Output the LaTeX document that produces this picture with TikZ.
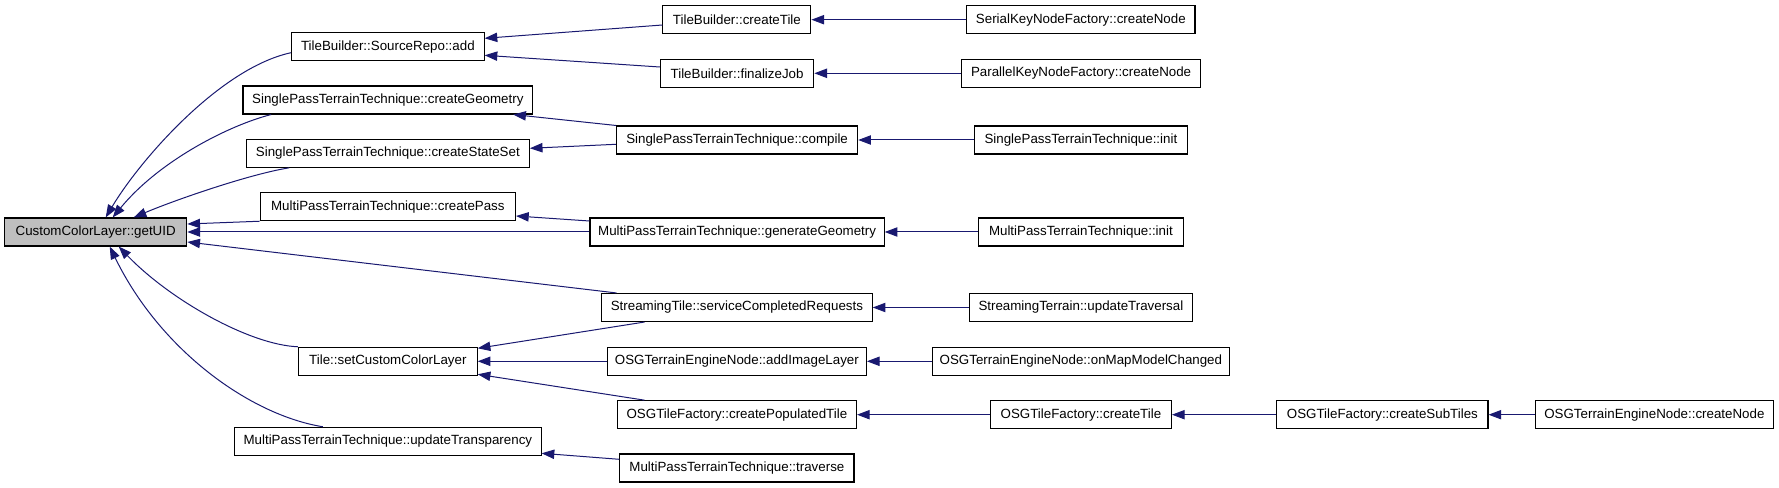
\documentclass[tikz,border=0pt]{standalone}
\usepackage{fontspec}
\setmainfont{Liberation Sans}
\usetikzlibrary{arrows.meta,calc}
\definecolor{edgec}{HTML}{191970}
\definecolor{rootfill}{HTML}{BFBFBF}
\newcommand{\bx}[6][white]{\node[box, fill=#1, minimum width={(#4-#3)*0.75pt}] (#2) at ({(#3+#4)/2},#5) {#6};}
\begin{document}
\begin{tikzpicture}[x=0.75pt,y=-0.75pt,
  box/.style={draw=black, line width=0.8pt, minimum height=21pt, inner sep=0pt, font=\fontsize{10}{12}\selectfont},
  edge/.style={draw=edgec, line width=0.75pt, -{Triangle[length=9.5pt,width=7pt]}}]
\useasboundingbox (0,0) rectangle (1779,488);
% column 0
\bx[rootfill]{uid}{4.6}{186.8}{232}{CustomColorLayer::getUID}
% column 1
\bx{add}{291.6}{484.1}{46.7}{TileBuilder::SourceRepo::add}
\bx{cg}{243}{532.7}{100}{SinglePassTerrainTechnique::createGeometry}
\bx{css}{246.4}{529.3}{153.3}{SinglePassTerrainTechnique::createStateSet}
\bx{cp}{260.2}{515.5}{206.7}{MultiPassTerrainTechnique::createPass}
\bx{scl}{298.5}{477.2}{361.3}{Tile::setCustomColorLayer}
\bx{ut}{234.6}{541.1}{441.3}{MultiPassTerrainTechnique::updateTransparency}
% column 2
\bx{tbct}{662.9}{810.9}{19.7}{TileBuilder::createTile}
\bx{fj}{660.4}{813.8}{73.3}{TileBuilder::finalizeJob}
\bx{cmp}{616.5}{857.7}{140}{SinglePassTerrainTechnique::compile}
\bx{gg}{590}{884.2}{232}{MultiPassTerrainTechnique::generateGeometry}
\bx{scr}{601.6}{872.2}{307.5}{StreamingTile::serviceCompletedRequests}
\bx{ail}{607.4}{866.4}{361.3}{OSGTerrainEngineNode::addImageLayer}
\bx{cpt}{617.3}{856.5}{414.7}{OSGTileFactory::createPopulatedTile}
\bx{trv}{619.8}{854}{468}{MultiPassTerrainTechnique::traverse}
% column 3
\bx{skn}{966.7}{1195}{19.7}{SerialKeyNodeFactory::createNode}
\bx{pkn}{961.3}{1200.9}{73.3}{ParallelKeyNodeFactory::createNode}
\bx{spi}{974.2}{1187.6}{140}{SinglePassTerrainTechnique::init}
\bx{mpi}{978.3}{1183.5}{232}{MultiPassTerrainTechnique::init}
\bx{utr}{969.6}{1192.2}{307.5}{StreamingTerrain::updateTraversal}
\bx{omc}{932.7}{1229.1}{361.3}{OSGTerrainEngineNode::onMapModelChanged}
\bx{tfct}{990.4}{1171.5}{414.7}{OSGTileFactory::createTile}
% column 4,5
\bx{cst}{1276.8}{1488}{414.7}{OSGTileFactory::createSubTiles}
\bx{tecn}{1535.3}{1773.5}{414.7}{OSGTerrainEngineNode::createNode}

% curved edges into getUID
\draw[edge] ($(add.west)+(0,6)$) .. controls (220,68) and (140,160) .. ($(uid.north)+(10,0)$);
\draw[edge] ($(cg.south west)+(28.7,0)$) .. controls (230,125) and (160,160) .. ($(uid.north)+(17,0)$);
\draw[edge] ($(css.south west)+(43.3,0)$) .. controls (250,174) and (175,200) .. ($(uid.north)+(38,0)$);
\draw[edge] (scl.north west) .. controls (250,345) and (170,300) .. ($(uid.south)+(23,0)$);
\draw[edge] ($(ut.north west)+(88.8,0)$) .. controls (250,415) and (160,350) .. ($(uid.south)+(14,0)$);
% straight edges into getUID
\draw[edge] (cp.south west) -- ($(uid.east)+(0,-8)$);
\draw[edge] (gg.west) -- (uid.east);
\draw[edge] ($(scr.north west)+(15.4,0)$) -- ($(uid.east)+(0,10)$);
% column 2 -> column 1
\draw[edge] ($(tbct.west)+(0,5.3)$) -- ($(add.east)+(0,-8.4)$);
\draw[edge] ($(fj.west)+(0,-6.3)$) -- ($(add.east)+(0,8.6)$);
\draw[edge] (cmp.north west) -- ($(cg.south east)+(-20,0)$);
\draw[edge] ($(cmp.west)+(0,4.3)$) -- ($(css.east)+(0,-5)$);
\draw[edge] ($(gg.west)+(0,-11)$) -- ($(cp.east)+(0,9.3)$);
\draw[edge] ($(scr.south west)+(43.4,0)$) -- ($(scl.east)+(0,-13)$);
\draw[edge] (ail.west) -- (scl.east);
\draw[edge] ($(cpt.north west)+(27.7,0)$) -- ($(scl.east)+(0,13)$);
\draw[edge] ($(trv.west)+(0,-8.7)$) -- ($(ut.east)+(0,12)$);
% column 3 -> column 2
\draw[edge] (skn.west) -- (tbct.east);
\draw[edge] (pkn.west) -- (fj.east);
\draw[edge] (spi.west) -- (cmp.east);
\draw[edge] (mpi.west) -- (gg.east);
\draw[edge] (utr.west) -- (scr.east);
\draw[edge] (omc.west) -- (ail.east);
\draw[edge] (tfct.west) -- (cpt.east);
\draw[edge] (cst.west) -- (tfct.east);
\draw[edge] (tecn.west) -- (cst.east);
\end{tikzpicture}
\end{document}
